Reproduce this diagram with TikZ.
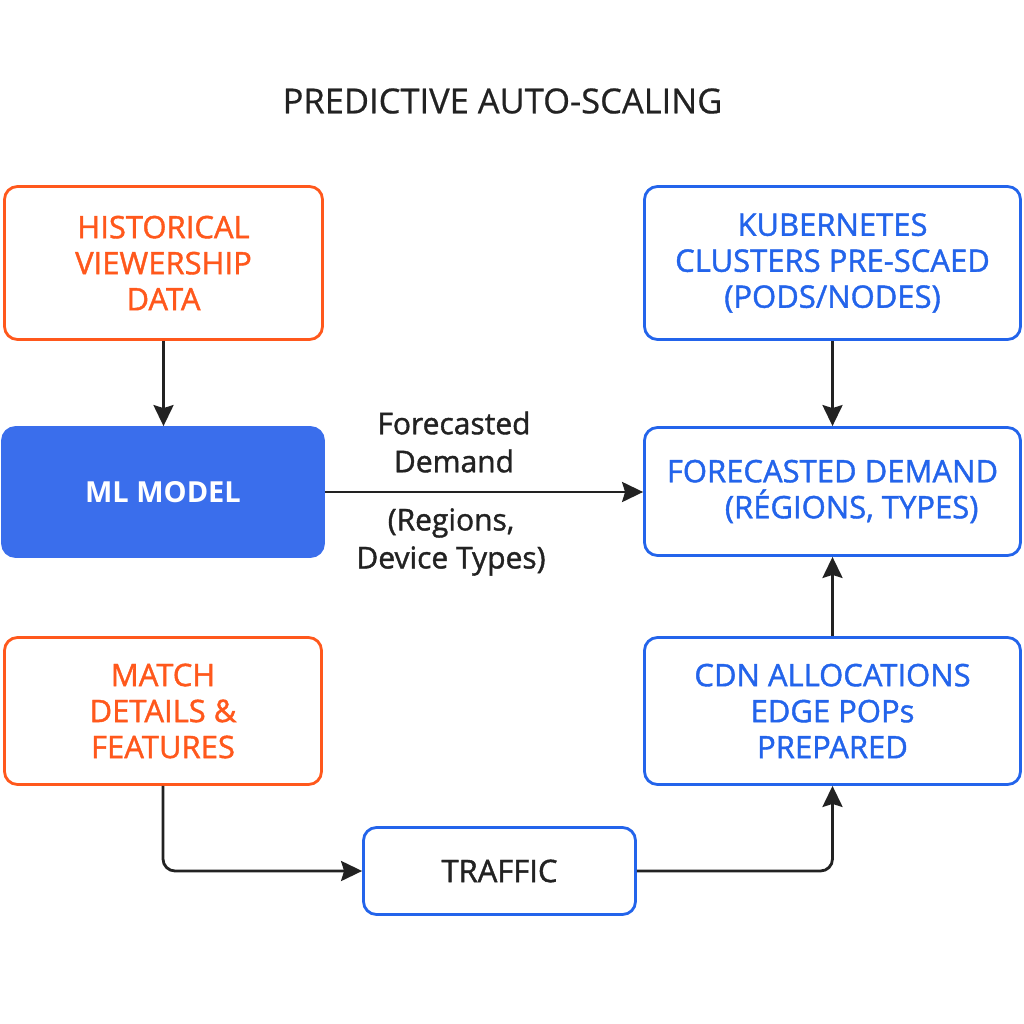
\documentclass[tikz,border=0pt]{standalone}
\usepackage{fontspec}
\setmainfont{Open Sans}
\newfontfamily\medfont{Open Sans}[FakeBold=1.3]
\newfontfamily\titlefont{Open Sans}[FakeBold=0.6]
\usetikzlibrary{arrows.meta}
\definecolor{orng}{RGB}{255,88,28}
\definecolor{blu}{RGB}{35,100,235}
\definecolor{bluefill}{RGB}{58,110,236}
\definecolor{ink}{RGB}{34,34,34}
\begin{document}
\begin{tikzpicture}[x=1pt,y=-1pt,
 box/.style={draw,line width=2.8pt,rounded corners=13pt,align=center,inner sep=0pt,font=\medfont\fontsize{31}{36}\selectfont},
 obox/.style={box,draw=orng,text=orng},
 bbox/.style={box,draw=blu,text=blu},
 arr/.style={draw=ink,line width=2.8pt,-{Stealth[length=21pt,width=20pt,inset=3pt]}},
 lbl/.style={align=center,text=ink,font=\medfont\fontsize{30}{38}\selectfont}]
\useasboundingbox[fill=white] (0,0) rectangle (1024,1024);

\node[text=ink,font=\titlefont\fontsize{34.5}{40}\selectfont] (title) at (502.5,101) {PREDICTIVE AUTO-SCALING};

\node[obox,minimum width=318pt,minimum height=153pt] (hist) at (163.5,263) {HISTORICAL\\VIEWERSHIP\\DATA};
\node[box,draw=bluefill,fill=bluefill,text=white,font=\fontsize{29}{36}\selectfont\bfseries,minimum width=321pt,minimum height=129pt] (ml) at (163,492) {ML MODEL};
\node[obox,minimum width=317pt,minimum height=147pt] (match) at (163,711) {MATCH\\DETAILS \&\\FEATURES};

\node[bbox,minimum width=376pt,minimum height=153pt] (kube) at (832.5,263) {KUBERNETES\\CLUSTERS PRE-SCAED\\(PODS/NODES)};
\node[bbox,align=left,minimum width=376pt,minimum height=128pt] (fore) at (832.5,491.5) {FORECASTED DEMAND\\\hspace*{58pt}(RÉGIONS, TYPES)\hspace*{12pt}};
\node[bbox,minimum width=376pt,minimum height=147pt] (cdn) at (832.5,711) {CDN ALLOCATIONS\\EDGE POPs\\PREPARED};
\node[bbox,text=ink,minimum width=272pt,minimum height=87pt] (traffic) at (499.5,871) {TRAFFIC};

\node[lbl] (l1) at (454,442) {Forecasted\\Demand};
\node[lbl] (l2) at (451,542) {(Regions,\\Device Types)};

\draw[arr] (hist.south) -- (hist.south |- ml.north);
\draw[arr] (ml.east) -- (ml.east -| fore.west);
\draw[arr] (kube.south) -- (kube.south |- fore.north);
\draw[arr] (cdn.north) -- (cdn.north |- fore.south);
\draw[arr,rounded corners=12pt] (match.south) |- (traffic.west);
\draw[arr,rounded corners=12pt] (traffic.east) -| (cdn.south);
\end{tikzpicture}
\end{document}
